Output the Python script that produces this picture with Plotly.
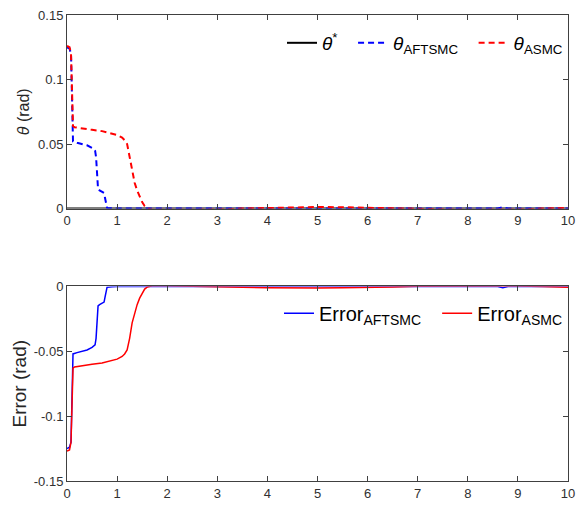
import plotly.graph_objects as go
from plotly.subplots import make_subplots

# ---- data ----
t_ref = [0, 10]
theta_ref = [0, 0]

t_aft = [0, 0.05, 0.08, 0.1, 0.12, 0.2, 0.3, 0.4, 0.5, 0.56, 0.58, 0.6, 0.62, 0.65, 0.7, 0.74, 0.76, 0.78, 0.8, 0.9, 1.0, 2, 3, 4, 5, 6, 7, 8, 8.6, 8.7, 8.8, 9, 10]
theta_aft = [0.125, 0.124, 0.12, 0.08, 0.052, 0.051, 0.05, 0.049, 0.047, 0.045, 0.04, 0.02, 0.015, 0.014, 0.013, 0.012, 0.008, 0.002, 0.0005, 0.0002, 0, 0, 0, 0, 0, 0, 0, 0, 0, 0.001, 0, 0, 0]

t_asmc = [0, 0.05, 0.08, 0.1, 0.12, 0.15, 0.3, 0.5, 0.7, 0.9, 1.0, 1.1, 1.15, 1.2, 1.25, 1.3, 1.35, 1.4, 1.45, 1.5, 1.55, 1.6, 1.65, 1.7, 2, 2.5, 3, 3.5, 4, 4.5, 5, 5.5, 6, 6.5, 7, 7.5, 8, 8.5, 9, 9.5, 10]
theta_asmc = [0.126, 0.125, 0.12, 0.09, 0.064, 0.063, 0.062, 0.061, 0.060, 0.058, 0.057, 0.055, 0.053, 0.05, 0.04, 0.028, 0.02, 0.014, 0.009, 0.005, 0.002, 0.0005, -0.0005, -0.001, -0.001, -0.001, -0.0008, 0, 0.0005, 0.001, 0.0012, 0.001, 0.0005, 0, -0.0005, -0.0008, -0.001, -0.0008, -0.0008, 0, 0.0005]

t_err_aft = [0, 0.05, 0.08, 0.1, 0.12, 0.2, 0.3, 0.4, 0.5, 0.56, 0.58, 0.6, 0.62, 0.65, 0.7, 0.74, 0.76, 0.78, 0.8, 0.9, 1.0, 2, 3, 4, 5, 6, 7, 8, 8.6, 8.7, 8.8, 9, 10]
err_aft = [-0.125, -0.124, -0.12, -0.08, -0.052, -0.051, -0.05, -0.049, -0.047, -0.045, -0.04, -0.02, -0.015, -0.014, -0.013, -0.012, -0.008, -0.002, -0.0005, -0.0002, 0, 0, 0, 0, 0, 0, 0, 0, 0, -0.001, 0, 0, 0]

t_err_asmc = [0, 0.05, 0.08, 0.1, 0.12, 0.15, 0.3, 0.5, 0.7, 0.9, 1.0, 1.1, 1.15, 1.2, 1.25, 1.3, 1.35, 1.4, 1.45, 1.5, 1.55, 1.6, 1.65, 1.7, 2, 2.5, 3, 3.5, 4, 4.5, 5, 5.5, 6, 6.5, 7, 7.5, 8, 8.5, 9, 9.5, 10]
err_asmc = [-0.127, -0.126, -0.12, -0.09, -0.063, -0.062, -0.061, -0.06, -0.059, -0.057, -0.056, -0.054, -0.052, -0.049, -0.04, -0.028, -0.02, -0.014, -0.009, -0.005, -0.002, -0.0005, 0.0003, 0.0005, 0.0005, 0.0003, 0, -0.0005, -0.001, -0.0012, -0.0012, -0.001, -0.0008, -0.0003, 0.0002, 0.0003, 0.0003, 0.0002, 0.0003, 0, -0.0005]

x_ticks = [0, 1, 2, 3, 4, 5, 6, 7, 8, 9, 10]
y1_ticks = [0, 0.05, 0.1, 0.15]
y1_text = ["0", "0.05", "0.1", "0.15"]
y2_ticks = [-0.15, -0.1, -0.05, 0]
y2_text = ["-0.15", "-0.1", "-0.05", "0"]

fig = make_subplots(rows=2, cols=1)

fig.add_trace(go.Scatter(x=t_ref, y=theta_ref, mode="lines", name="<i>θ</i><sup>*</sup>&nbsp;&nbsp;",
                         line=dict(color="black", width=2), legend="legend"), row=1, col=1)
fig.add_trace(go.Scatter(x=t_aft, y=theta_aft, mode="lines", name="<i>θ</i><sub>AFTSMC</sub>&nbsp;&nbsp;",
                         line=dict(color="#0000FF", width=2, dash="6px,4px"), legend="legend"), row=1, col=1)
fig.add_trace(go.Scatter(x=t_asmc, y=theta_asmc, mode="lines", name="<i>θ</i><sub>ASMC</sub>",
                         line=dict(color="#FF0000", width=2, dash="6px,4px"), legend="legend"), row=1, col=1)

fig.add_trace(go.Scatter(x=t_err_aft, y=err_aft, mode="lines", name="Error<sub>AFTSMC</sub>&nbsp;&nbsp;",
                         line=dict(color="#0000FF", width=1.5), legend="legend2"), row=2, col=1)
fig.add_trace(go.Scatter(x=t_err_asmc, y=err_asmc, mode="lines", name="Error<sub>ASMC</sub>",
                         line=dict(color="#FF0000", width=1.5), legend="legend2"), row=2, col=1)

axis_common = dict(showline=True, mirror="ticks", linecolor="#404040", linewidth=1,
                   ticks="inside", ticklen=5, tickcolor="#404040", showgrid=False, zeroline=False,
                   tickfont=dict(family="Liberation Sans, Arial", size=13, color="#303030"))

fig.update_xaxes(range=[0, 10], tickvals=x_ticks, **axis_common)
fig.update_yaxes(row=1, col=1, range=[0, 0.15], tickvals=y1_ticks, ticktext=y1_text,
                 title=dict(text="<i>θ</i> (rad)", font=dict(family="Liberation Sans, Arial", size=16, color="#262626"), standoff=4),
                 **axis_common)
fig.update_yaxes(row=2, col=1, range=[-0.15, 0], tickvals=y2_ticks, ticktext=y2_text,
                 title=dict(text="Error (rad)", font=dict(family="Liberation Sans, Arial", size=19, color="#262626"), standoff=2),
                 **axis_common)

fig.update_layout(
    width=583, height=509,
    margin=dict(l=67, r=8, t=12, b=25),
    paper_bgcolor="white", plot_bgcolor="white",
    xaxis=dict(domain=[0, 1]), xaxis2=dict(domain=[0, 1]),
    yaxis=dict(domain=[0.5847, 1.0]),
    yaxis2=dict(domain=[0.0, 0.4174]),
    legend=dict(orientation="h", x=1.0, y=0.94, xanchor="right", yanchor="middle",
                bgcolor="rgba(0,0,0,0)", font=dict(family="Liberation Sans, Arial", size=19, color="black"),
                itemwidth=30, tracegroupgap=0),
    legend2=dict(orientation="h", x=1.0, y=0.36, xanchor="right", yanchor="middle",
                 bgcolor="rgba(0,0,0,0)", font=dict(family="Liberation Sans, Arial", size=20, color="black"),
                 itemwidth=30, tracegroupgap=0),
    showlegend=True,
)

fig.write_html("out.html")
